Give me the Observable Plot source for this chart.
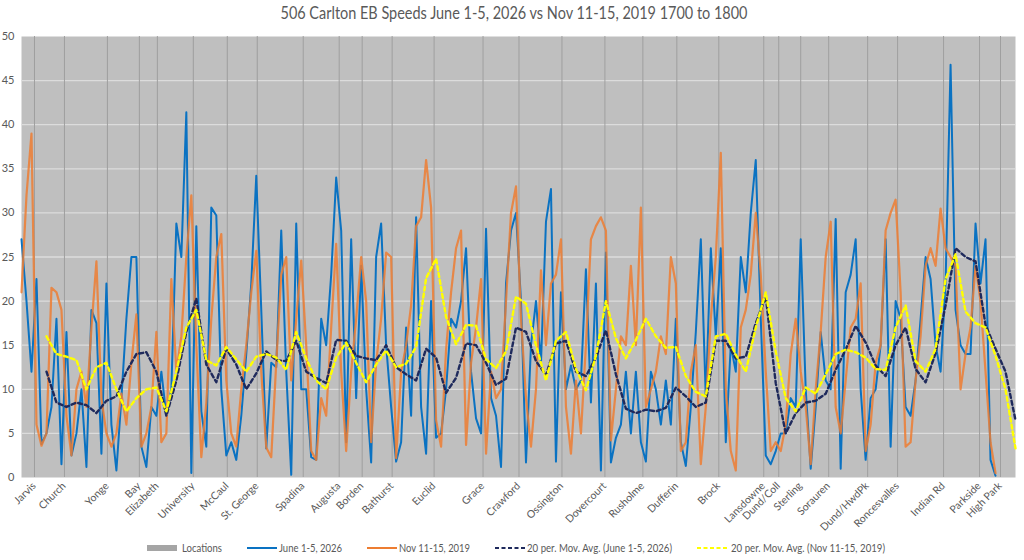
<!DOCTYPE html>
<html>
<head>
<meta charset="utf-8">
<script src="https://cdn.jsdelivr.net/npm/d3@7"></script>
<script src="https://cdn.jsdelivr.net/npm/@observablehq/plot@0.6"></script>
<style>
  body { margin: 0; background: #ffffff; }
  #chart { width: 1024px; height: 560px; }
</style>
</head>
<body>
<div id="chart"></div>
<script>
// ---- Data ----
const titleText = "506 Carlton EB Speeds June 1-5, 2026 vs Nov 11-15, 2019 1700 to 1800";

const locationNames = ["Jarvis","Church","Yonge","Bay","Elizabeth","University","McCaul","St. George","Spadina","Augusta","Borden","Bathurst","Euclid","Grace","Crawford","Ossington","Dovercourt","Rusholme","Dufferin","Brock","Lansdowne","Dund/Coll","Sterling","Sorauren","Dund/HwdPk","Roncesvalles","Indian Rd","Parkside","High Park"];
const locationIndex = [2.6, 8.6, 17.2, 23.6, 27.2, 34.4, 41.2, 47.2, 56.4, 63.6, 68.2, 74.2, 82.6, 92.4, 99.6, 108.2, 116.8, 124.4, 131.2, 139.6, 148.6, 151.6, 156, 161.6, 169.4, 175.4, 184.6, 191.8, 196];

const yTicks = [0, 5, 10, 15, 20, 25, 30, 35, 40, 45, 50];

// June 1-5, 2026 speeds (one value per sample index)
const june = [
  27, 20, 12, 22.5, 3.8, 5, 8, 18, 1.5, 16.5,
  2.5, 5, 10, 1.2, 19, 17.5, 2.7, 22, 6, 0.8,
  9, 18, 25, 25, 3.5, 1.2, 8, 7, 12, 7,
  10, 28.8, 25, 41.4, 0.5, 28.5, 7.5, 3.5, 30.6, 29.7,
  10, 2.5, 4, 2, 7, 14, 22, 34.2, 19, 3.3,
  13, 12.5, 28, 12, 0.3, 28.8, 10, 10, 2.3, 2,
  18, 15, 23, 34, 28, 4, 27, 9, 24, 10,
  1.7, 25, 28.8, 15, 8, 1.8, 4, 17, 7, 29.5,
  8, 2.7, 20, 4.5, 5, 10, 18, 17, 20, 26,
  12, 6.7, 5, 28.2, 9, 7, 1.2, 22, 28, 30,
  20, 1.7, 15, 20, 13, 29, 32.7, 1.8, 21, 10,
  12.7, 10, 11, 23.6, 8.5, 22, 0.8, 25.5, 1.7, 4.5,
  6, 12, 5, 12, 4, 1.8, 12, 10, 6, 11,
  6, 18, 4, 1.3, 8, 16.5, 27, 9, 26, 16,
  26, 4, 15, 12, 25, 21, 30, 36, 18, 2.5,
  1.5, 3, 5, 5, 9, 8, 27, 10, 1, 8,
  16.5, 11, 10, 29.3, 1, 21, 23, 27, 10, 2,
  9, 10, 15, 27, 3.5, 20, 18, 8, 7, 11,
  18, 25, 22.5, 15, 12, 22, 46.8, 19, 15, 14,
  14, 28.8, 22, 27, 2, 0.2
];

// Nov 11-15, 2019 speeds
const nov = [
  21, 32, 39, 6, 3.6, 5, 21.5, 21, 19, 7,
  2.5, 10, 12, 8, 17, 24.5, 9, 5, 3.5, 5,
  9.5, 6, 13, 18.5, 3.5, 5, 8, 16.5, 4, 5,
  22.5, 12, 16, 25, 32, 15, 2.3, 8.5, 18, 25,
  27.6, 11, 5, 3.5, 10, 15, 21, 25.7, 12, 3.4,
  2.3, 13, 23, 25, 11, 18, 24.6, 15, 3, 2,
  9, 7, 17, 26.5, 12, 3, 12, 18, 25, 20,
  4, 13, 18, 25.5, 25, 2.2, 12, 15, 19.5, 28.5,
  29.5, 36, 30.6, 6.5, 3.5, 14.5, 21, 26, 28, 3.7,
  13, 17, 22.5, 2.7, 12, 9, 10, 20, 30, 33,
  18, 9, 3.5, 10, 23.5, 15, 22, 23, 27, 8,
  2.7, 11, 5, 15, 27, 28.5, 29.5, 28, 4.2, 10,
  16, 15, 24, 15, 30.6, 8, 10, 12, 16, 14,
  25, 22, 3, 4, 12, 15, 1.5, 8, 18, 25,
  36.8, 10, 3, 0.8, 17, 19, 23, 30, 23, 12,
  3, 4, 3, 6, 14, 18, 12, 8, 1.5, 10,
  16.5, 25, 29, 8, 5, 11, 17, 18, 22, 3,
  6, 13, 15, 28, 30, 31.5, 21, 3.5, 4, 11,
  16, 24, 26, 24, 30.5, 26, 25, 24, 10, 14,
  17, 24, 20, 12, 4, 0.5
];

// 20-period moving averages, read every second sample index starting at index 5
const maStart = 5;
const maStep = 2;
const maJune = [
  12, 8.5, 8, 8.5, 8.2, 7.3, 8.7, 9.2, 12, 14,
  14.2, 12, 7, 11, 16.5, 20.3, 12.8, 10.8, 14.6, 12.8,
  10, 11.8, 14.3, 13.3, 13.2, 15.5, 12, 11.3, 10.7, 15.6,
  15.5, 13.8, 13.5, 13.3, 15, 12.5, 11.7, 11, 14.6, 13.6,
  9.6, 11.3, 15.2, 15, 13, 10.5, 11.2, 17, 16.5, 13.2,
  11.6, 15.2, 15.5, 12, 11.5, 13.6, 16.7, 11.7, 7.8, 7.3,
  7.7, 7.5, 7.9, 10.2, 9.2, 8, 8.5, 15.5, 15.5, 13.5,
  13.7, 17.5, 20.5, 10.7, 5, 7.3, 8.5, 8.7, 9.5, 12.2,
  14.5, 17.2, 15.3, 12.7, 11.5, 15, 17, 12.3, 10.8, 14.1,
  19.5, 26, 25, 24.5, 17.3, 14.6, 12, 6.5
];
const maNov = [
  16, 14, 13.7, 13.3, 10, 12.5, 13, 10, 7.5, 9,
  10, 10.2, 7.5, 12, 17, 19, 13.3, 12.7, 14.8, 13.4,
  12, 13.7, 14, 13.6, 12.2, 16.5, 13.5, 11, 10, 13.6,
  15.3, 13, 10.8, 12.8, 14.4, 12.5, 12.9, 14.8, 22.6, 24.8,
  18.2, 15.1, 17.3, 17.2, 13.4, 12.4, 14.3, 20.5, 19.7, 15,
  11, 15.5, 16.5, 12.3, 9.9, 13.8, 20, 15.8, 13.5, 15.6,
  18, 16, 14.7, 14.8, 11.5, 9.7, 9.2, 16, 16.3, 13.9,
  12, 17, 21, 14.3, 9, 7.5, 10.2, 9.5, 11.7, 14,
  14.5, 14.2, 13.6, 12.3, 12.2, 17, 19.5, 13.2, 12, 14.6,
  22.5, 25.3, 18.8, 17.5, 17, 13.8, 10, 3.3
];

// ---- Tables built from the arrays ----
const juneData = june.map((v, i) => ({i, v}));
const novData = nov.map((v, i) => ({i, v}));
const maJuneData = maJune.map((v, k) => ({i: maStart + maStep * k, v}));
const maNovData = maNov.map((v, k) => ({i: maStart + maStep * k, v}));

const textColor = "#595959";
const colors = {
  locations: "#a5a5a5",
  june: "#0a72c2",
  nov: "#ed7d31",
  maJune: "#1f2a5c",
  maNov: "#ffff00"
};

const chart = Plot.plot({
  width: 1024,
  height: 560,
  marginLeft: 21,
  marginRight: 9,
  marginTop: 36,
  marginBottom: 83,
  style: {fontFamily: "Lato, 'Open Sans', sans-serif", background: "#ffffff", color: textColor, overflow: "visible"},
  x: {domain: [0, 199], axis: null},
  y: {domain: [0, 50]},
  marks: [
    Plot.frame({fill: "#bfbfbf", stroke: "none"}),
    Plot.ruleY(yTicks.filter(d => d > 0 && d < 50), {stroke: "#dcdcdc", strokeWidth: 1.3}),
    Plot.ruleX(locationIndex, {stroke: "#9f9f9f", strokeWidth: 1}),
    Plot.line(juneData, {x: "i", y: "v", stroke: colors.june, strokeWidth: 2}),
    Plot.line(novData, {x: "i", y: "v", stroke: colors.nov, strokeWidth: 2.2, strokeOpacity: 0.85}),
    Plot.line(maJuneData, {x: "i", y: "v", stroke: colors.maJune, strokeWidth: 2.4, strokeDasharray: "4,3"}),
    Plot.line(maNovData, {x: "i", y: "v", stroke: colors.maNov, strokeWidth: 2.4, strokeDasharray: "4,3"}),
    Plot.axisY(yTicks, {tickSize: 0, tickPadding: 7, fontSize: 11, fill: textColor, label: null}),
    Plot.text(locationIndex, {
      x: d => d,
      frameAnchor: "bottom",
      text: (d, k) => locationNames[k],
      rotate: -45,
      textAnchor: "end",
      dy: 9,
      dx: 2,
      fontSize: 10.5,
      fill: textColor
    })
  ]
});

document.getElementById("chart").appendChild(chart);

// ---- Title and legend (non-data decorations) ----
const svg = d3.select(chart);
svg.append("text")
  .attr("x", 514)
  .attr("y", 19)
  .attr("text-anchor", "middle")
  .attr("font-size", 17)
  .attr("fill", textColor)
  .attr("textLength", 467)
  .attr("lengthAdjust", "spacingAndGlyphs")
  .text(titleText);

const legendItems = [
  {label: "Locations", kind: "rect", color: colors.locations, x0: 147, tx: 182, tw: 40},
  {label: "June 1-5, 2026", kind: "line", color: colors.june, x0: 247, tx: 279, tw: 63},
  {label: "Nov 11-15, 2019", kind: "line", color: colors.nov, x0: 367, tx: 399, tw: 71},
  {label: "20 per. Mov. Avg. (June 1-5, 2026)", kind: "dash", color: colors.maJune, x0: 495, tx: 527, tw: 145},
  {label: "20 per. Mov. Avg. (Nov 11-15, 2019)", kind: "dash", color: colors.maNov, x0: 697, tx: 731, tw: 154}
];
const ly = 548;
const lg = svg.append("g").attr("class", "legend").attr("text-anchor", "start");
for (const it of legendItems) {
  if (it.kind === "rect") {
    lg.append("rect").attr("x", it.x0).attr("y", ly - 3).attr("width", 30).attr("height", 6).attr("fill", it.color);
  } else {
    lg.append("line").attr("x1", it.x0).attr("x2", it.x0 + 30).attr("y1", ly).attr("y2", ly)
      .attr("stroke", it.color).attr("stroke-width", 2)
      .attr("stroke-dasharray", it.kind === "dash" ? "4,2.5" : null);
  }
  lg.append("text").attr("x", it.tx).attr("y", ly + 4)
    .attr("text-anchor", "start")
    .attr("font-size", 11).attr("fill", textColor)
    .attr("textLength", it.tw).attr("lengthAdjust", "spacingAndGlyphs")
    .text(it.label);
}
</script>
</body>
</html>
